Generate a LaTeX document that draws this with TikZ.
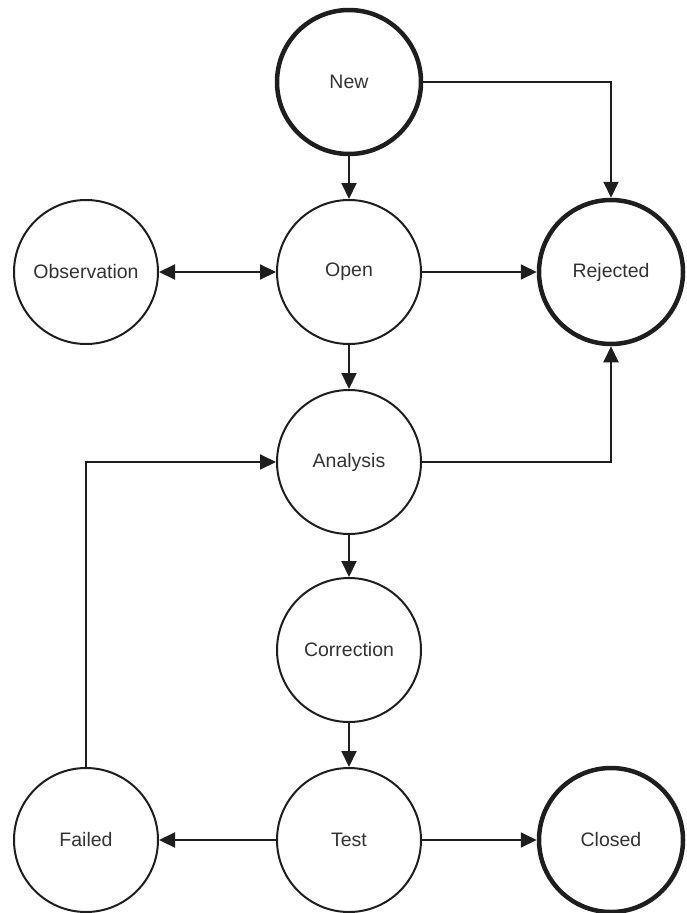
\documentclass[tikz,border=0pt]{standalone}
\usepackage{fontspec}
\setmainfont{Liberation Sans}
\usetikzlibrary{arrows.meta}
\definecolor{ink}{RGB}{30,30,30}
\definecolor{label}{RGB}{50,50,50}
\begin{document}
\begin{tikzpicture}[x=1pt,y=-1pt,
  state/.style={circle,draw=ink,line width=2pt,minimum size=144pt,inner sep=0pt,
    font=\fontsize{19.5}{21}\selectfont,text=label},
  final/.style={state,line width=4.5pt},
  flow/.style={draw=ink,line width=2pt,-{Triangle[length=16pt,width=15pt]}},
  both/.style={flow,{Triangle[length=16pt,width=15pt]}-{Triangle[length=16pt,width=15pt]}}]
\useasboundingbox (0,0) rectangle (686,913);

\node[final] (new)  at (349,82)  {New};
\node[state] (open) at (349,272) {Open};
\node[state] (obs)  at (86,272)  {Observation};
\node[final] (rej)  at (611,272) {Rejected};
\node[state] (ana)  at (349,462) {Analysis};
\node[state] (cor)  at (349,650) {Correction};
\node[state] (test) at (349,840) {Test};
\node[state] (fail) at (86,840)  {Failed};
\node[final] (clo)  at (611,840) {Closed};

\draw[flow] (new) -- (open);
\draw[flow] (new.east) -| (rej.north);
\draw[both] (obs) -- (open);
\draw[flow] (open) -- (rej);
\draw[flow] (open) -- (ana);
\draw[flow] (ana.east) -| (rej.south);
\draw[flow] (ana) -- (cor);
\draw[flow] (cor) -- (test);
\draw[flow] (test) -- (fail);
\draw[flow] (test) -- (clo);
\draw[flow] (fail.north) |- (ana.west);
\end{tikzpicture}
\end{document}
